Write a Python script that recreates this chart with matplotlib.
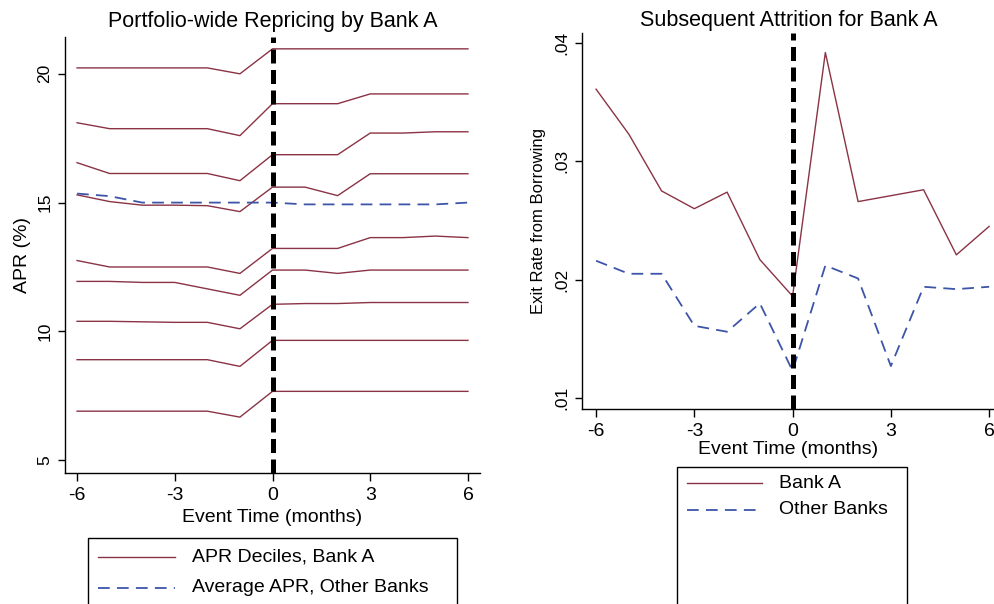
import numpy as np
import matplotlib
matplotlib.use("Agg")
import matplotlib.pyplot as plt
from matplotlib.patches import Rectangle
from matplotlib.lines import Line2D

plt.rcParams["font.family"] = ["Liberation Sans", "DejaVu Sans"]
plt.rcParams["font.size"] = 14
plt.rcParams["axes.unicode_minus"] = False

months = np.arange(-6, 7)

# APR deciles for Bank A, top to bottom
apr_deciles = [
    [20.23, 20.23, 20.23, 20.23, 20.23, 20.00, 20.97, 20.97, 20.97, 20.97, 20.97, 20.97, 20.97],
    [18.10, 17.87, 17.87, 17.87, 17.87, 17.60, 18.84, 18.84, 18.84, 19.22, 19.22, 19.22, 19.22],
    [16.55, 16.13, 16.13, 16.13, 16.13, 15.85, 16.86, 16.86, 16.86, 17.70, 17.70, 17.75, 17.75],
    [15.30, 15.04, 14.90, 14.90, 14.88, 14.65, 15.60, 15.60, 15.27, 16.12, 16.12, 16.12, 16.12],
    [12.75, 12.50, 12.50, 12.50, 12.50, 12.25, 13.22, 13.22, 13.22, 13.64, 13.64, 13.70, 13.64],
    [11.94, 11.94, 11.90, 11.90, 11.65, 11.40, 12.38, 12.38, 12.25, 12.38, 12.38, 12.38, 12.38],
    [10.39, 10.39, 10.37, 10.35, 10.35, 10.10, 11.05, 11.08, 11.08, 11.12, 11.12, 11.12, 11.12],
    [8.90, 8.90, 8.90, 8.90, 8.90, 8.64, 9.65, 9.65, 9.65, 9.65, 9.65, 9.65, 9.65],
    [6.90, 6.90, 6.90, 6.90, 6.90, 6.67, 7.67, 7.67, 7.67, 7.67, 7.67, 7.67, 7.67],
]
apr_other = [15.35, 15.25, 15.00, 15.00, 15.00, 15.00, 15.00, 14.93, 14.93, 14.93, 14.93, 14.93, 15.00]

exit_bank_a = [0.0361, 0.0323, 0.0275, 0.0260, 0.0274, 0.0217, 0.0186,
               0.0392, 0.0266, 0.0271, 0.0276, 0.0221, 0.0245]
exit_other = [0.0216, 0.0205, 0.0205, 0.0161, 0.0156, 0.0180, 0.0123,
              0.0212, 0.0201, 0.0127, 0.0194, 0.0192, 0.0194]

red = "#8a3344"
blue = "#3d55a8"
event_style = dict(color="black", linewidth=3.6, linestyle=(0, (2.8, 1.3)), zorder=5)
blue_dash = (0, (6.5, 4.0))

W, H = 995, 604
fig = plt.figure(figsize=(W / 100, H / 100), dpi=100)


def px_axes(left, top, right, bottom):
    return fig.add_axes([left / W, 1 - bottom / H, (right - left) / W, (bottom - top) / H])


def stata_style(ax):
    ax.spines["top"].set_visible(False)
    ax.spines["right"].set_visible(False)
    for s in ("left", "bottom"):
        ax.spines[s].set_linewidth(1.0)
    ax.tick_params(direction="out", length=6, width=1.0, pad=4)
    ax.tick_params(axis="x", labelsize=14)
    ax.tick_params(axis="y", labelsize=12.5, length=5)
    for lab in ax.get_yticklabels():
        lab.set_rotation(90)
        lab.set_va("center")


# left panel
ax1 = px_axes(65, 37, 480, 473)
for dec in apr_deciles:
    ax1.plot(months, dec, color=red, linewidth=1.0)
ax1.plot(months, apr_other, color=blue, linewidth=1.3, linestyle=blue_dash)
ax1.axvline(0, **event_style)
ax1.set_xlim(-6.37, 6.37)
ax1.set_ylim(4.5, 21.43)
ax1.set_xticks([-6, -3, 0, 3, 6])
ax1.set_yticks([5, 10, 15, 20])
ax1.set_xlabel("Event Time (months)", labelpad=4)
ax1.set_ylabel("APR (%)", labelpad=5)
ax1.set_title("Portfolio-wide Repricing by Bank A", fontsize=15.5, pad=7)
stata_style(ax1)

# right panel
ax2 = px_axes(582, 33, 995, 409)
ax2.plot(months, exit_bank_a, color=red, linewidth=1.0)
ax2.plot(months, exit_other, color=blue, linewidth=1.3, linestyle=blue_dash)
ax2.axvline(0, **event_style)
ax2.set_xlim(-6.43, 6.18)
ax2.set_ylim(0.00907, 0.04085)
ax2.set_xticks([-6, -3, 0, 3, 6])
ax2.set_yticks([0.01, 0.02, 0.03, 0.04])
ax2.set_yticklabels([".01", ".02", ".03", ".04"])
ax2.set_xlabel("Event Time (months)", labelpad=1)
ax2.set_ylabel("Exit Rate from Borrowing", fontsize=12, labelpad=6)
ax2.set_title("Subsequent Attrition for Bank A", fontsize=15.5, pad=5)
stata_style(ax2)


def legend_box(left, top, right, entries, y_first, y_step, line_x0, line_x1, text_x):
    fig.patches.append(Rectangle((left / W, -0.05), (right - left) / W, 1 - top / H + 0.05,
                                 transform=fig.transFigure, fill=False,
                                 edgecolor="black", linewidth=1.0, clip_on=False))
    for i, (label, color, ls, lw) in enumerate(entries):
        y = 1 - (y_first + i * y_step) / H
        fig.lines.append(Line2D([line_x0 / W, line_x1 / W], [y, y], transform=fig.transFigure,
                                color=color, linestyle=ls, linewidth=lw))
        fig.text(text_x / W, y, label, va="center", ha="left", fontsize=14)


legend_box(88, 538, 457,
           [("APR Deciles, Bank A", red, "-", 1.0),
            ("Average APR, Other Banks", blue, blue_dash, 1.3)],
           557, 31, 98, 175, 192)
legend_box(677, 467, 907,
           [("Bank A", red, "-", 1.0),
            ("Other Banks", blue, blue_dash, 1.3)],
           483, 27, 687, 762, 779)

fig.savefig("out.png", dpi=100)
